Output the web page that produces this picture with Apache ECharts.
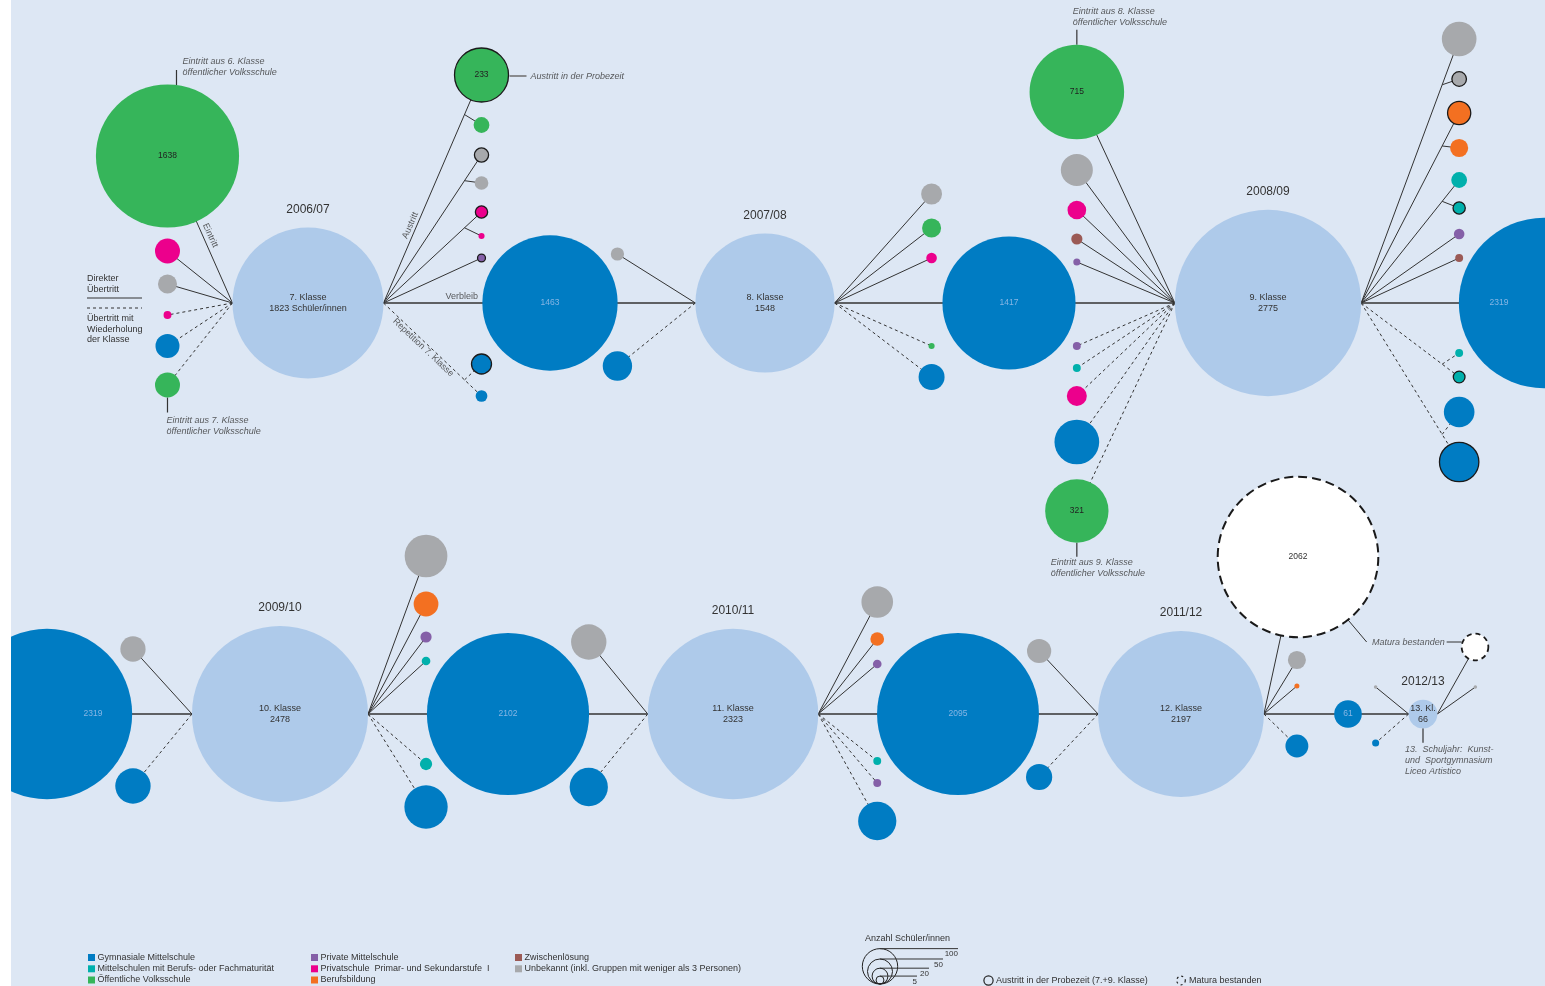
<!DOCTYPE html>
<html><head><meta charset="utf-8">
<script src="https://cdn.jsdelivr.net/npm/echarts@6/dist/echarts.min.js"></script>
<style>
html,body{margin:0;padding:0;background:#fff;}
#chart{position:absolute;left:11px;top:0;width:1534px;height:986px;background:#dde7f4;}
</style></head><body><div id="chart"></div>
<script>
// ================= DATA (values only) =================
const categories = ['Gymnasiale Mittelschule','Mittelschulen mit Berufs- oder Fachmaturität','Öffentliche Volksschule',
  'Private Mittelschule','Privatschule  Primar- und Sekundarstufe  I','Berufsbildung','Zwischenlösung',
  'Unbekannt (inkl. Gruppen mit weniger als 3 Personen)'];
const schoolYears = ['2006/07','2007/08','2008/09','2009/10','2010/11','2011/12','2012/13'];
const classNames = ['7. Klasse','8. Klasse','9. Klasse','10. Klasse','11. Klasse','12. Klasse','13. Kl.'];
const classTotals = [1823,1548,2775,2478,2323,2197,66];
const stayValues = [1463,1417,2319,2102,2095,61];      // Verbleib im Gymnasium
const maturaValues = [2062,57];                        // Matura bestanden
// flows: [category index, students, with repetition (0/1), Austritt in der Probezeit (0/1), branch of flow index (-1 = none)]
const flowsIn7  = [[2,1638,0,0,-1],[4,50,0,0,-1],[7,29,0,0,-1],[4,5,1,0,-1],[0,46,1,0,-1],[2,50,1,0,-1]];
const flowsOut7 = [[2,233,0,1,-1],[2,20,0,0,0],[7,16,0,1,-1],[7,15,0,0,2],[4,12,0,1,-1],[4,3,0,0,4],[3,5,0,1,-1],[0,32,1,1,8],[0,11,1,0,-1]];
const flowsIn8  = [[7,14,0,0,-1],[0,69,1,0,-1]];
const flowsOut8 = [[7,35,0,0,-1],[2,29,0,0,-1],[4,9,0,0,-1],[2,3,1,0,-1],[0,54,1,0,-1]];
const flowsIn9  = [[2,715,0,0,-1],[7,82,0,0,-1],[4,28,0,0,-1],[6,10,0,0,-1],[3,4,0,0,-1],[3,5,1,0,-1],[1,5,1,0,-1],[4,32,1,0,-1],[0,160,1,0,-1],[2,321,1,0,-1]];
const flowsOut9 = [[7,96,0,0,-1],[7,17,0,1,0],[5,43,0,1,-1],[5,26,0,0,2],[1,20,0,0,-1],[1,12,0,1,4],[3,9,0,0,-1],[6,5,0,0,-1],[1,5,1,0,9],[1,11,1,1,-1],[0,75,1,0,11],[0,124,1,1,-1]];
const flowsIn10 = [[7,51,0,0,-1],[0,100,1,0,-1]];
const flowsOut10= [[7,146,0,0,-1],[5,49,0,0,-1],[3,10,0,0,-1],[1,6,0,0,-1],[1,12,1,0,-1],[0,150,1,0,-1]];
const flowsIn11 = [[7,100,0,0,-1],[0,117,1,0,-1]];
const flowsOut11= [[7,80,0,0,-1],[5,15,0,0,-1],[3,6,0,0,-1],[1,5,1,0,-1],[3,5,1,0,-1],[0,117,1,0,-1]];
const flowsIn12 = [[7,47,0,0,-1],[0,55,1,0,-1]];
const flowsOut12= [[7,26,0,0,-1],[5,2,0,0,-1],[0,42,1,0,-1]];
const flowsIn13 = [[7,1,0,0,-1],[0,4,1,0,-1]];
const flowsOut13= [[7,1,0,0,-1]];
const linkLabels = ['Eintritt','Austritt','Verbleib','Repetition 7. Klasse'];
const noteTexts = ['Eintritt aus 6. Klasse\nöffentlicher Volksschule','Eintritt aus 7. Klasse\nöffentlicher Volksschule',
  'Eintritt aus 8. Klasse\nöffentlicher Volksschule','Eintritt aus 9. Klasse\nöffentlicher Volksschule',
  'Austritt in der Probezeit','Matura bestanden','13.  Schuljahr:  Kunst-\nund  Sportgymnasium\nLiceo Artistico'];
const sizeLegendValues = [100,50,20,5];

// ================= LAYOUT & STYLE =================
const FONT = '"Liberation Sans", Arial, Helvetica, sans-serif';
const catColors = ['#007cc3','#00b0ac','#36b55a','#8560a8','#ec008c','#f37021','#9b5a55','#a7a9ac'];
const classColor = '#aecaea', stayColor = '#007cc3', lineColor = '#333333';
const classPos = [[308,303],[765,303],[1268,303],[280,714],[733,714],[1181,714],[1423,714]];
const stayPos = [[[550,303]],[[1009,303]],[[1544,303],[47,714]],[[508,714]],[[958,714]],[[1348,714]]];
const stayLabelOffset = [[0,0],[0,0],[-45,0],[0,0],[0,0],[0,0]];
const maturaPos = [[1298,557],[1475,647]];
const groupLayout = [
  {flows: flowsIn7,  cls:0, side:'L', dx:-65, ys:[156,251,284,315,346,385]},
  {flows: flowsOut7, cls:0, side:'R', dx:98,  ys:[75,125,155,183,212,236,258,364,396]},
  {flows: flowsIn8,  cls:1, side:'L', dx:-78, ys:[254,366]},
  {flows: flowsOut8, cls:1, side:'R', dx:97,  ys:[194,228,258,346,377]},
  {flows: flowsIn9,  cls:2, side:'L', dx:-98, ys:[92,170,210,239,262,346,368,396,442,511]},
  {flows: flowsOut9, cls:2, side:'R', dx:98,  ys:[39,79,113,148,180,208,234,258,353,377,412,462]},
  {flows: flowsIn10, cls:3, side:'L', dx:-59, ys:[649,786]},
  {flows: flowsOut10,cls:3, side:'R', dx:58,  ys:[556,604,637,661,764,807]},
  {flows: flowsIn11, cls:4, side:'L', dx:-59, ys:[642,787]},
  {flows: flowsOut11,cls:4, side:'R', dx:59,  ys:[602,639,664,761,783,821]},
  {flows: flowsIn12, cls:5, side:'L', dx:-59, ys:[651,777]},
  {flows: flowsOut12,cls:5, side:'R', dx:33,  ys:[660,686,746]},
  {flows: flowsIn13, cls:6, side:'L', dx:-33, ys:[687,743]},
  {flows: flowsOut13,cls:6, side:'R', dx:38,  ys:[687]}
];
// link label placement: [label index, link key, fraction from hub, perpendicular offset]
const linkLabelLayout = [[0,'g0_0',0.44,7],[1,'g1_0',0.33,6],[2,'s0a',0.47,6],[3,'g1_8',0.44,-5]];
// notes with tick: [note index, node key, tick dx, direction (-1 up / 1 down), tick length, text dx, text dy]
const tickNotes = [[0,'g0_0',9,-1,15,6,-13.5],[1,'g0_5',0,1,15,-1,2.5],[2,'g4_0',0,-1,15,-4,-23.5],
  [3,'g4_9',0,1,14,-26,0.5],[6,'c6',0,1,14.5,-18,1.5]];

// ================= BUILD =================
const D = v => 3.537 * Math.sqrt(v);
const R = v => D(v) / 2;
const nodeAt = {};
const nodes = [], links = {}, linkList = [];
function addLink(key, coords, rep, width, color) {
  const l = {coords, lineStyle:{color: color || lineColor, width: width || 1, type: rep ? [3,3] : 'solid', opacity:1}};
  links[key] = coords; linkList.push(l);
}
const hubs = classPos.map((p,i) => ({L:[p[0]-R(classTotals[i]), p[1]], R:[p[0]+R(classTotals[i]), p[1]]}));

classPos.forEach((p,i) => {
  nodeAt['c'+i] = {pos:p, v:classTotals[i]};
  nodes.push({value:[p[0],p[1],classTotals[i]], itemStyle:{color:classColor},
    label:{show:true, color:'#333', fontSize:9, lineHeight:11,
      formatter: classNames[i] + '\n' + classTotals[i] + (i===0 ? ' Schüler/innen' : '')}});
});
stayPos.forEach((parts,i) => {
  parts.forEach((p,k) => {
    nodes.push({value:[p[0],p[1],stayValues[i]], itemStyle:{color:stayColor},
      label:{show:true, color:'#86b6e4', fontSize:8.5, formatter:String(stayValues[i]),
        offset: k===0 ? stayLabelOffset[i] : [46,0]}});
  });
  addLink('s'+i+'a', [hubs[i].R, parts[0]], 0, 1.4);
  addLink('s'+i+'b', [parts[parts.length-1], hubs[i+1].L], 0, 1.4);
});
maturaPos.forEach((p,i) => {
  nodeAt['m'+i] = {pos:p, v:maturaValues[i]};
  nodes.push({value:[p[0],p[1],maturaValues[i]],
    itemStyle:{color:'#ffffff', borderColor:'#1a1a1a', borderWidth:i===0?2:1.8, borderType:i===0?[9,5]:[5,4]},
    label:{show:i===0, color:'#333', fontSize:8.5, formatter:String(maturaValues[i])}});
  addLink('m'+i, [hubs[5+i].R, p], 0, 1);
});
groupLayout.forEach((g,gi) => {
  const hub = hubs[g.cls][g.side];
  g.flows.forEach((f,j) => {
    const pos = [hub[0]+g.dx, g.ys[j]];
    nodeAt['g'+gi+'_'+j] = {pos, v:f[1]};
  });
  g.flows.forEach((f,j) => {
    const pos = nodeAt['g'+gi+'_'+j].pos;
    let start = hub;
    if (f[4] >= 0) {
      const pp = nodeAt['g'+gi+'_'+f[4]].pos;
      const w = pp[0]-hub[0];
      const fr = (w - Math.sign(w)*17) / w;
      start = [hub[0]+fr*(pp[0]-hub[0]), hub[1]+fr*(pp[1]-hub[1])];
    }
    addLink('g'+gi+'_'+j, [start,pos], f[2], 1);
  });
  g.flows.forEach((f,j) => {
    const pos = nodeAt['g'+gi+'_'+j].pos;
    nodes.push({value:[pos[0],pos[1],f[1]],
      itemStyle:{color:catColors[f[0]], borderColor:'#1a1a1a', borderWidth:f[3]?1.3:0},
      label: f[1] >= 200 ? {show:true, color:'#222', fontSize:8.5, formatter:String(f[1])} : {show:false}});
  });
});

// link labels
const linkLabelData = linkLabelLayout.map(([li,key,t,off]) => {
  const [a,b] = links[key];
  let dx = b[0]-a[0], dy = b[1]-a[1];
  const len = Math.hypot(dx,dy); dx/=len; dy/=len;
  const px = a[0]+t*(b[0]-a[0]), py = a[1]+t*(b[1]-a[1]);
  if (dx < 0) { dx=-dx; dy=-dy; }
  const ux = dy, uy = -dx;
  return {value:[px+off*ux, py+off*uy], label:{show:true, formatter:linkLabels[li],
    rotate: -Math.atan2(dy,dx)*180/Math.PI}};
});

// notes with ticks
const noteData = [];
tickNotes.forEach(([ni,key,tdx,dir,tlen,tx,ty]) => {
  const n = nodeAt[key]; const r = R(n.v);
  const x = n.pos[0]+tdx;
  const y0 = n.pos[1] + dir*Math.sqrt(Math.max(r*r - tdx*tdx,0));
  const y1 = y0 + dir*tlen;
  addLink('t'+ni, [[x,y0],[x,y1]], 0, 1.2);
  noteData.push({value:[x,y1], label:{show:true, formatter:noteTexts[ni], position:[tx,ty], align:'left', verticalAlign:'top'}});
});
// Probezeit note
(function(){
  const n = nodeAt['g1_0']; const r = R(n.v);
  const y = n.pos[1]+1;
  addLink('p', [[n.pos[0]+r+1,y],[n.pos[0]+r+18,y]], 0, 1.5, '#6d6d6d');
  noteData.push({value:[n.pos[0]+r+22,y], label:{show:true, formatter:noteTexts[4], position:[0,0], align:'left', verticalAlign:'middle'}});
})();
// Matura note
(function(){
  const a = nodeAt['m0'], b = nodeAt['m1'];
  const ra = R(a.v), rb = R(b.v);
  const ang = 51.5*Math.PI/180;
  const y = b.pos[1]-5;
  const textRight = b.pos[0]-rb-17;
  addLink('ma', [[a.pos[0]+ra*Math.cos(ang), a.pos[1]+ra*Math.sin(ang)],[textRight-78, y]], 0, 1);
  addLink('mb', [[textRight+2, y],[b.pos[0]-rb, y]], 0, 1);
  noteData.push({value:[textRight,y], label:{show:true, formatter:noteTexts[5], position:[0,0], align:'right', verticalAlign:'middle'}});
})();

// ================= LEGEND GRAPHICS =================
const gx = x => x - 11;
const graphic = [];
const txt = (x,y,text,extra) => graphic.push(Object.assign({type:'text', x:gx(x), y:y, silent:true,
  style:Object.assign({text, fill:'#333', font:'9px '+FONT, verticalAlign:'middle'}, extra||{})}));
// left mini legend
graphic.push({type:'text', x:gx(87), y:273.5, silent:true, style:{text:'Direkter\nÜbertritt', fill:'#333', font:'9px '+FONT, lineHeight:11, verticalAlign:'top'}});
graphic.push({type:'line', silent:true, shape:{x1:gx(87),y1:298,x2:gx(142),y2:298}, style:{stroke:'#333', lineWidth:1}});
graphic.push({type:'line', silent:true, shape:{x1:gx(87),y1:308,x2:gx(142),y2:308}, style:{stroke:'#333', lineWidth:1, lineDash:[3,3]}});
graphic.push({type:'text', x:gx(87), y:313.5, silent:true, style:{text:'Übertritt mit\nWiederholung\nder Klasse', fill:'#333', font:'9px '+FONT, lineHeight:10.5, verticalAlign:'top'}});
// category legend
const legCols = [88,311,515], legRows = [957.5,968.8,980];
const legOrder = [[0,0,0],[1,0,1],[2,0,2],[3,1,0],[4,1,1],[5,1,2],[6,2,0],[7,2,1]];
legOrder.forEach(([ci,c,r]) => {
  graphic.push({type:'rect', silent:true, shape:{x:gx(legCols[c]), y:legRows[r]-3.5, width:7, height:7}, style:{fill:catColors[ci]}});
  txt(legCols[c]+9.5, legRows[r], categories[ci]);
});
// size legend
txt(865, 939, 'Anzahl Schüler/innen');
const slEnds = [958,943,929,917];
sizeLegendValues.forEach((v,i) => {
  const r = R(v), cx = 880, bottom = 984;
  graphic.push({type:'circle', silent:true, shape:{cx:gx(cx), cy:bottom-r, r}, style:{fill:'none', stroke:'#222', lineWidth:1}});
  graphic.push({type:'line', silent:true, shape:{x1:gx(cx), y1:bottom-2*r, x2:gx(slEnds[i]), y2:bottom-2*r}, style:{stroke:'#333', lineWidth:1}});
  txt(slEnds[i], bottom-2*r+5.5, String(v), {align:'right', font:'8px '+FONT});
});
graphic.push({type:'circle', silent:true, shape:{cx:gx(988.5), cy:980.5, r:4.6}, style:{fill:'none', stroke:'#222', lineWidth:1.2}});
txt(996, 980.5, 'Austritt in der Probezeit (7.+9. Klasse)');
graphic.push({type:'circle', silent:true, shape:{cx:gx(1181), cy:980.5, r:4.3}, style:{fill:'none', stroke:'#222', lineWidth:1.2, lineDash:[2,3]}});
txt(1189, 980.5, 'Matura bestanden');

// ================= CHART =================
const chart = echarts.init(document.getElementById('chart'), null, {renderer:'canvas'});
chart.setOption({
  animation:false,
  backgroundColor:'#dde7f4',
  textStyle:{fontFamily:FONT},
  grid:{left:0,right:0,top:0,bottom:0},
  xAxis:{type:'value', min:11, max:1545, show:false},
  yAxis:{type:'value', min:0, max:986, inverse:true, show:false},
  graphic: graphic,
  series:[
    {type:'lines', coordinateSystem:'cartesian2d', polyline:true, silent:true, z:1, data:linkList},
    {type:'scatter', name:'nodes', silent:true, z:3, symbol:'circle', symbolSize:v => D(v[2]),
      itemStyle:{opacity:1},
      label:{show:false, position:'inside', fontFamily:FONT, fontSize:8.5}, data:nodes},
    {type:'scatter', name:'years', silent:true, z:4, symbolSize:v => D(v[2]),
      itemStyle:{color:'rgba(0,0,0,0)', opacity:1},
      label:{show:true, position:'top', distance:12, color:'#333', fontSize:12, fontFamily:FONT,
        formatter: p => schoolYears[p.dataIndex]},
      data: classPos.map((p,i) => [p[0],p[1],classTotals[i]])},
    {type:'scatter', name:'linkLabels', silent:true, z:5, symbolSize:0,
      label:{show:true, position:'inside', color:'#333', fontSize:9, fontFamily:FONT, align:'center', verticalAlign:'middle'},
      data:linkLabelData},
    {type:'scatter', name:'notes', silent:true, z:5, symbolSize:0,
      label:{show:true, color:'#333', fontSize:9, fontStyle:'italic', fontFamily:FONT, lineHeight:11},
      data:noteData}
  ]
});
</script></body></html>
